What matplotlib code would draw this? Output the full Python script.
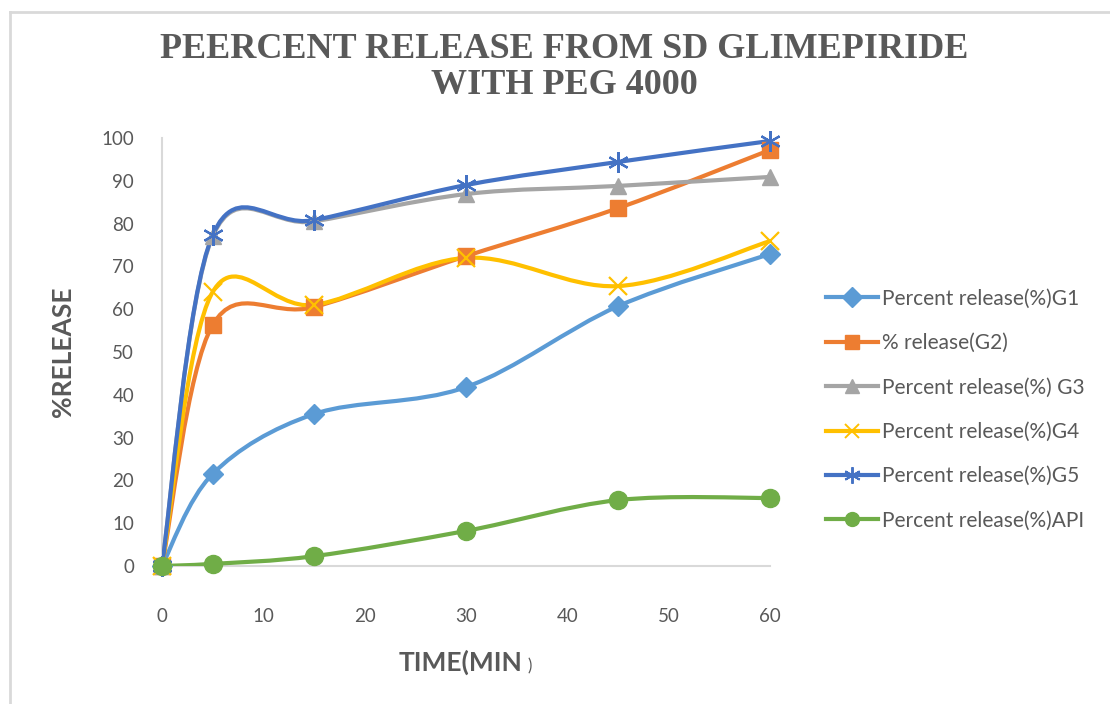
import numpy as np
import matplotlib
matplotlib.use("Agg")
import matplotlib.pyplot as plt
from matplotlib.path import Path
from matplotlib.patches import PathPatch
from matplotlib.lines import Line2D

# Datos
tiempo = [0, 5, 15, 30, 45, 60]
g1 = [0, 21.5, 35.5, 41.8, 60.7, 72.9]
g2 = [0, 56.3, 60.5, 72.4, 83.6, 97.2]
g3 = [0, 77.0, 80.5, 86.9, 88.8, 90.9]
g4 = [0, 64.0, 61.0, 72.0, 65.4, 75.9]
g5 = [0, 77.3, 80.8, 89.0, 94.4, 99.3]
api = [0, 0.5, 2.3, 8.2, 15.4, 15.9]

etiquetas = ["Percent release(%)G1", "% release(G2)", "Percent release(%) G3",
             "Percent release(%)G4", "Percent release(%)G5", "Percent release(%)API"]
colores = ["#5B9BD5", "#ED7D31", "#A5A5A5", "#FFC000", "#4472C4", "#70AD47"]
marcadores = ["D", "s", "^", "x", "*", "o"]
series = [g1, g2, g3, g4, g5, api]

gris = "#595959"


def curva_suave(x, y):
    """Curva tipo Excel (Bezier por tramos, estilo Catmull-Rom)."""
    p = np.column_stack([x, y]).astype(float)
    n = len(p)
    verts = [p[0]]
    codes = [Path.MOVETO]
    for i in range(n - 1):
        p0 = p[i - 1] if i > 0 else p[i]
        p3 = p[i + 2] if i + 2 < n else p[i + 1]
        c1 = p[i] + (p[i + 1] - p0) / 6.0
        c2 = p[i + 1] - (p3 - p[i]) / 6.0
        verts += [c1, c2, p[i + 1]]
        codes += [Path.CURVE4] * 3
    return Path(verts, codes)


fig = plt.figure(figsize=(11.1, 7.04), dpi=100)
ax = fig.add_axes([0.1459, 0.196, 0.5478, 0.608])

for datos, color, mk, lab in zip(series, colores, marcadores, etiquetas):
    camino = curva_suave(tiempo, datos)
    ax.add_patch(PathPatch(camino, facecolor="none", edgecolor=color, lw=3,
                           capstyle="round", joinstyle="round", zorder=2))
    if mk == "x":
        ax.plot(tiempo, datos, ls="none", marker=mk, ms=13, mew=1.6, color=color,
                zorder=3, clip_on=False)
    elif mk == "*":
        ax.plot(tiempo, datos, ls="none", marker=(6, 2, 0), ms=15, mew=1.6, color=color,
                zorder=3, clip_on=False)
    else:
        tam = {"D": 10, "s": 12, "^": 12, "o": 13}[mk]
        ax.plot(tiempo, datos, ls="none", marker=mk, ms=tam, color=color,
                zorder=3, clip_on=False)

ax.set_xlim(0, 60)
ax.set_ylim(0, 100)
ax.set_xticks(range(0, 61, 10))
ax.set_yticks(range(0, 101, 10))
for s in ["top", "right"]:
    ax.spines[s].set_visible(False)
for s in ["left", "bottom"]:
    ax.spines[s].set_color("#D9D9D9")
    ax.spines[s].set_linewidth(1.5)
    ax.spines[s].set_zorder(0)
ax.tick_params(length=0, colors=gris)
ax.tick_params(axis="y", pad=20, labelsize=13.5)
ax.tick_params(axis="x", pad=30, labelsize=13.5)
for t in ax.get_xticklabels() + ax.get_yticklabels():
    t.set_fontfamily("Lato")

# Titulo
fig.text(0.508, 0.904, "PEERCENT RELEASE FROM SD GLIMEPIRIDE\nWITH PEG 4000",
         ha="center", va="center", fontsize=26, fontweight="bold",
         family="Liberation Serif", color=gris, linespacing=1.15)

# Etiquetas de ejes
fig.text(0.057, 0.50, "%RELEASE", rotation=90, ha="center", va="center",
         fontsize=19, fontweight="bold", family="Lato", color=gris)
fig.text(0.415, 0.059, "TIME(MIN", ha="center", va="center",
         fontsize=19, fontweight="bold", family="Lato", color=gris)
fig.text(0.4775, 0.053, ")", ha="center", va="center",
         fontsize=12, family="Lato", color=gris)

# Leyenda
manejadores = []
for color, mk in zip(colores, marcadores):
    if mk == "*":
        h = Line2D([], [], color=color, lw=3, marker=(6, 2, 0), ms=12, mew=1.4)
    elif mk == "x":
        h = Line2D([], [], color=color, lw=3, marker="x", ms=10, mew=1.4)
    else:
        h = Line2D([], [], color=color, lw=3, marker=mk, ms=10)
    manejadores.append(h)
fig.legend(manejadores, etiquetas, loc="center left", bbox_to_anchor=(0.727, 0.418),
           frameon=False, prop={"family": "Lato", "size": 15}, labelcolor=gris,
           handlelength=2.5, handletextpad=0.2, labelspacing=1.17)

# Borde del grafico
fig.add_artist(Line2D([0.009, 0.009], [0, 0.983], transform=fig.transFigure,
                      color="#D9D9D9", lw=2))
fig.add_artist(Line2D([0.009, 1.0], [0.983, 0.983], transform=fig.transFigure,
                      color="#D9D9D9", lw=2))

fig.savefig("out.png", dpi=100)
